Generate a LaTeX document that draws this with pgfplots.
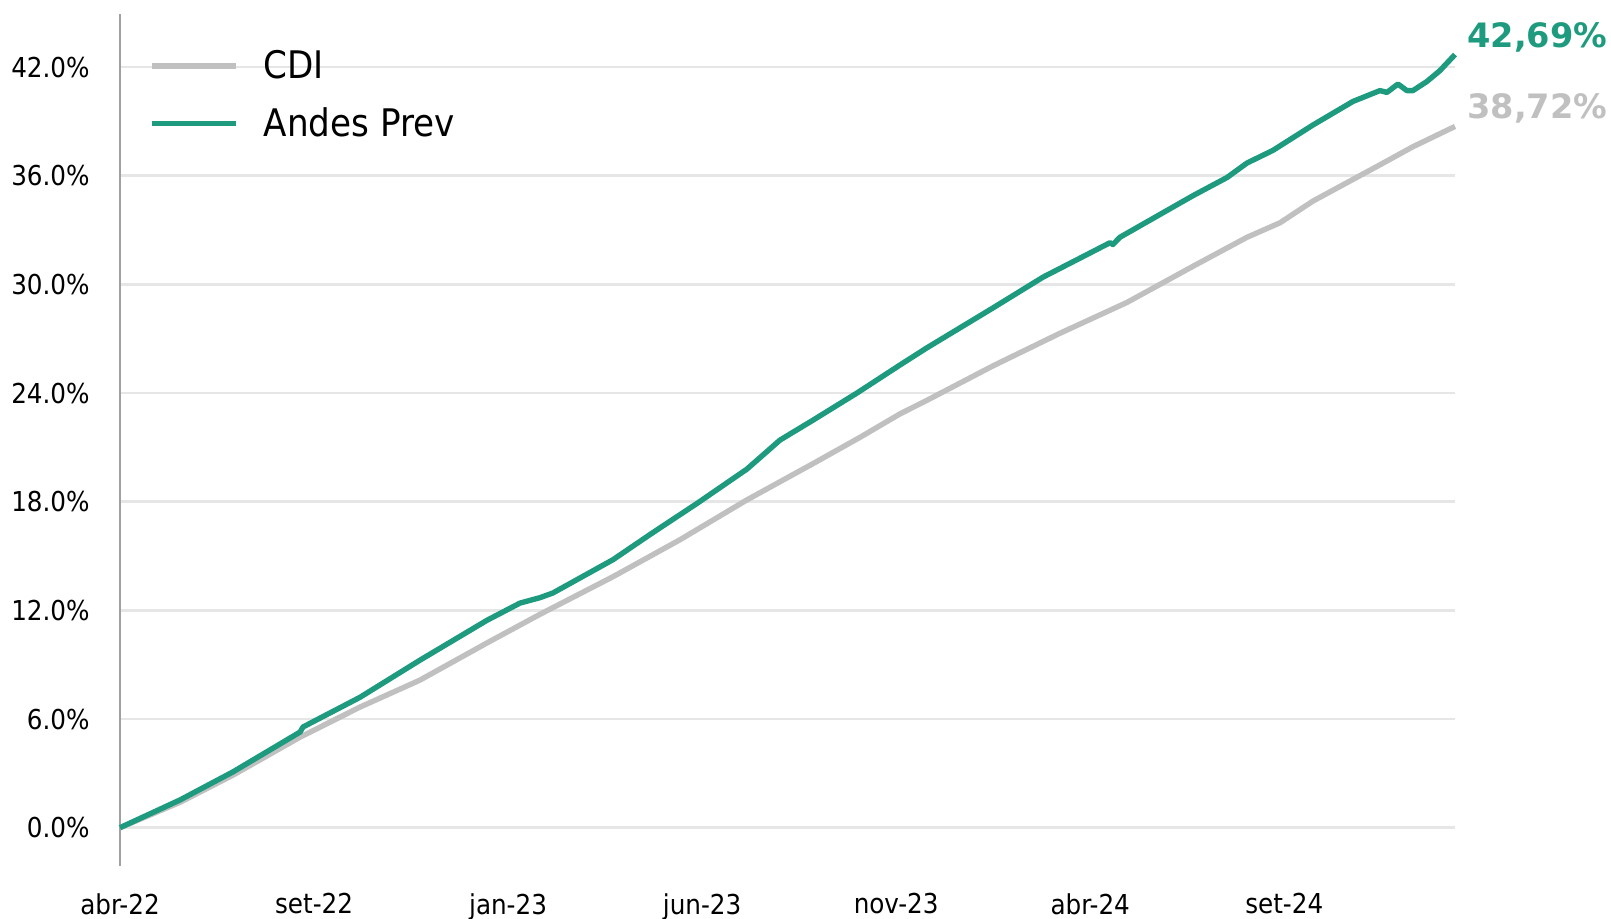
\documentclass[border=0pt]{standalone}
\usepackage{pgfplots}
\pgfplotsset{compat=1.18}
\usepackage{fontspec}
\setmainfont{DejaVu Sans Condensed}
\newfontfamily\labelfont{DejaVu Sans}
\definecolor{andes}{HTML}{1E9B7E}
\definecolor{cdi}{HTML}{C0C0C0}
\definecolor{gridc}{HTML}{E6E6E6}
\definecolor{axc}{HTML}{A0A0A0}
\begin{document}
\begin{tikzpicture}
\begin{axis}[
  name=ax,
  scale only axis,
  width=667.5pt, height=426pt,
  xmin=0, xmax=6.88,
  ymin=-2.115, ymax=44.93,
  clip=false,
  axis lines=left,
  axis line style={-},
  x axis line style={draw=none},
  y axis line style={draw=axc, line width=1.2pt},
  major tick length=0pt,
  xtick={0,1,2,3,4,5,6},
  xticklabels={abr-22,set-22,jan-23,jun-23,nov-23,abr-24,set-24},
  ytick={0,6,12,18,24,30,36,42},
  yticklabel={\pgfmathprintnumber[fixed,fixed zerofill,precision=1]{\tick}\%},
  /pgf/number format/assume math mode=true,
  ymajorgrids=true,
  grid style={draw=gridc, line width=1.3pt},
  ticklabel style={font=\fontsize{13.7pt}{16pt}\selectfont, text=black},
  xticklabel style={anchor=north, inner sep=0pt, yshift=-13.5pt},
  yticklabel style={anchor=east, inner sep=0pt, xshift=-15pt},
  legend style={at={(axis description cs:0,1)}, anchor=north west,
    xshift=11.5pt, yshift=-16pt, draw=none, fill=none,
    font=\fontsize{19pt}{22pt}\selectfont, row sep=13.1pt, column sep=12.5pt,
    nodes={inner sep=0pt}},
  legend cell align=left,
  legend image code/.code={\draw[#1] (0pt,0pt) -- (42pt,0pt);},
]
\addplot[cdi, line width=2.7pt, line join=round] coordinates {
(0,0) (0.309,1.4) (0.582,2.9) (0.928,5.0) (1.237,6.66) (1.546,8.15)
(1.891,10.2) (2.164,11.78) (2.541,13.86) (2.886,15.9) (3.231,18.1)
(3.571,20.1) (3.813,21.55) (4.020,22.85) (4.159,23.6) (4.499,25.5)
(4.844,27.3) (5.189,29.0) (5.530,31.0) (5.808,32.6) (5.978,33.4)
(6.148,34.6) (6.493,36.6) (6.663,37.6) (6.880,38.72)
};
\addlegendentry{CDI}
\addplot[andes, line width=2.7pt, line join=round] coordinates {
(0,0) (0.309,1.53) (0.582,3.08) (0.928,5.28) (0.943,5.56) (1.237,7.2)
(1.546,9.25) (1.891,11.45) (2.061,12.4) (2.164,12.7) (2.231,12.96)
(2.541,14.8) (2.747,16.3) (2.973,17.9) (3.231,19.8) (3.401,21.4)
(3.571,22.5) (3.798,24.0) (4.020,25.55) (4.159,26.5) (4.499,28.7)
(4.757,30.4) (5.102,32.3) (5.117,32.2) (5.153,32.6) (5.530,34.9)
(5.705,35.9) (5.808,36.7) (5.942,37.4) (6.148,38.8) (6.354,40.1)
(6.493,40.7) (6.529,40.6) (6.586,41.06) (6.632,40.7) (6.663,40.7)
(6.735,41.2) (6.802,41.8) (6.880,42.69)
};
\addlegendentry{Andes Prev}
\node[anchor=west, inner sep=0pt, xshift=6pt, yshift=8.8pt, text=andes,
  font=\labelfont\bfseries\fontsize{16.8pt}{18pt}\selectfont] at (axis cs:6.88,42.69) {42,69\%};
\node[anchor=west, inner sep=0pt, xshift=6pt, yshift=8.8pt, text=cdi,
  font=\labelfont\bfseries\fontsize{16.8pt}{18pt}\selectfont] at (axis cs:6.88,38.72) {38,72\%};
\end{axis}
\pgfresetboundingbox
\path[use as bounding box] (ax.south west) ++(-60pt,-26.5pt) rectangle ++(805.5pt,459.5pt);
\end{tikzpicture}
\end{document}
